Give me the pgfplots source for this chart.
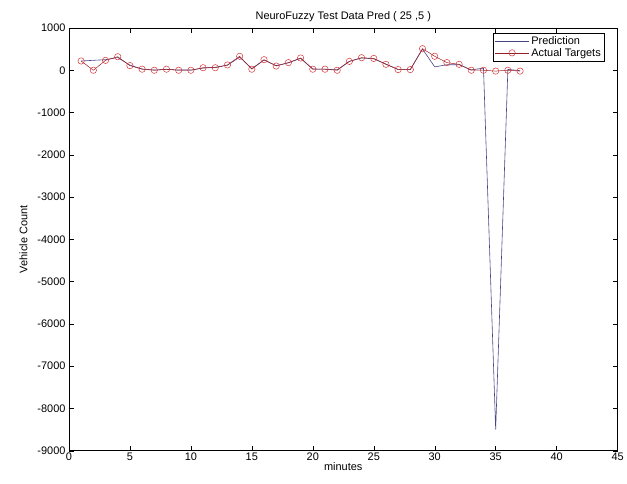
\documentclass[border=0pt]{standalone}
\usepackage{pgfplots}
\pgfplotsset{compat=1.18}
\usepackage{fontspec}
\setmainfont{Liberation Sans}
\definecolor{predc}{RGB}{70,70,135}
\definecolor{actl}{RGB}{150,30,40}
\definecolor{actm}{RGB}{220,50,50}
\begin{document}
\begin{tikzpicture}
\begin{axis}[
  name=ax,
  scale only axis,
  width=549bp, height=423bp,
  xmin=0, xmax=45, ymin=-9000, ymax=1000,
  xtick={0,5,...,45},
  ytick={-9000,-8000,...,1000},
  tick align=inside,
  major tick length=5bp,
  tick style={black, line width=0.4pt},
  axis line style={black, line width=0.6pt},
  /pgf/number format/assume math mode=true,
  /pgf/number format/set thousands separator={},
  ticklabel style={font=\fontsize{11}{13}\selectfont},
  xticklabel style={yshift=1bp},
  title={NeuroFuzzy Test Data Pred ( 25 ,5 )},
  title style={font=\fontsize{11}{13}\selectfont, yshift=-3bp},
  xlabel={minutes},
  ylabel={Vehicle Count},
  label style={font=\fontsize{11}{13}\selectfont},
  xlabel style={yshift=5bp},
  ylabel style={yshift=3bp},
  legend cell align=left,
  legend style={at={(0.976,0.988)}, anchor=north east, draw=black, line width=0.4pt,
    font=\fontsize{11}{13}\selectfont, inner sep=1.5pt, row sep=-2pt},
  legend image code/.code={%
    \draw[#1] (0cm,0cm) -- (1.2cm,0cm);%
    \path[#1, mark repeat=2, mark phase=2] plot coordinates {(0cm,0cm) (0.6cm,0cm) (1.2cm,0cm)};%
  },
]
\addplot[predc, line width=0.6pt, mark=none] coordinates {
(1,219) (2,235) (3,250) (4,300) (5,120) (6,30) (7,5) (8,20) (9,5) (10,5)
(11,50) (12,70) (13,120) (14,310) (15,40) (16,240) (17,110) (18,175) (19,280) (20,30)
(21,25) (22,10) (23,210) (24,290) (25,270) (26,145) (27,20) (28,20) (29,500) (30,80)
(31,130) (32,130) (33,10) (34,50) (35,-8500) (36,20) (37,-10)
};
\addlegendentry{Prediction}
\addplot[actl, line width=0.5pt, mark=o, mark size=3.2pt, mark options={actm, line width=0.5pt}] coordinates {
(1,219) (2,0) (3,234) (4,320) (5,110) (6,25) (7,0) (8,25) (9,0) (10,0)
(11,60) (12,60) (13,125) (14,330) (15,25) (16,250) (17,100) (18,180) (19,290) (20,25)
(21,25) (22,0) (23,210) (24,297) (25,280) (26,140) (27,16) (28,16) (29,510) (30,330)
(31,180) (32,140) (33,0) (34,0) (35,-20) (36,0) (37,-20)
};
\addlegendentry{Actual Targets}
\end{axis}
\path ([xshift=-69bp,yshift=-33bp]ax.south west) rectangle ([xshift=9bp,yshift=28bp]ax.north east);
\end{tikzpicture}
\end{document}
